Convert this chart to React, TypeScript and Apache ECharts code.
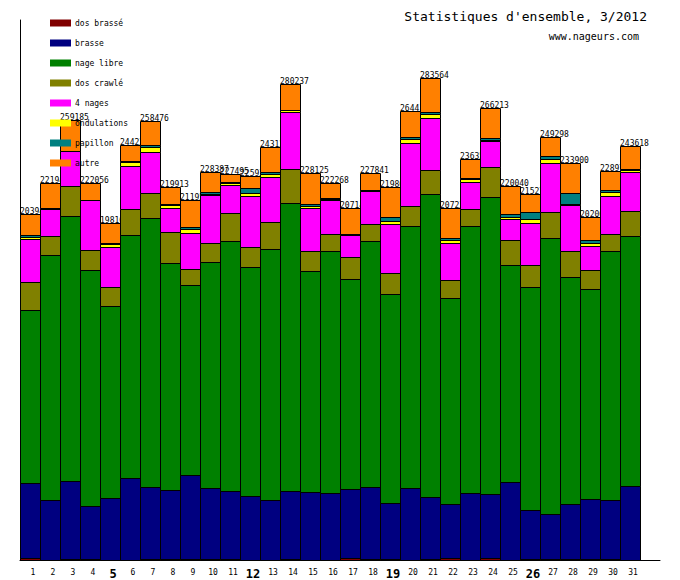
import { useEffect, useRef } from 'react';
import * as echarts from 'echarts';

// Days of March 2012
const days = [
  '1', '2', '3', '4', '5', '6', '7', '8', '9', '10',
  '11', '12', '13', '14', '15', '16', '17', '18', '19', '20',
  '21', '22', '23', '24', '25', '26', '27', '28', '29', '30', '31',
];
// Days printed larger in bold on the axis
const boldDays = ['5', '12', '19', '26'];

// Distances per stroke and per day (metres)
const dosBrasse = [1185, 0, 594, 602, 0, 0, 597, 588, 591, 586, 593, 0, 0, 590, 0, 0, 1172, 587, 593, 0, 586, 1183, 0, 1176, 0, 592, 584, 589, 594, 591, 0];
const brasse = [43987, 35158, 45761, 31036, 36348, 48117, 42226, 40471, 49294, 41648, 39869, 37524, 35157, 39882, 39871, 39281, 40459, 42238, 32802, 42226, 36347, 31634, 39291, 37512, 45771, 28679, 26331, 32213, 35168, 34568, 43403];
const nageLibre = [101903, 144297, 156258, 139011, 113259, 143134, 158437, 133709, 111906, 133121, 147243, 134876, 147846, 169627, 130176, 142544, 123694, 144887, 123108, 154502, 178461, 121682, 157436, 174938, 127806, 131352, 162558, 133709, 123684, 146667, 147257];
const dosCrawle = [16489, 11186, 17488, 11784, 11017, 15319, 14846, 18254, 9598, 11187, 16672, 11783, 16083, 20031, 11775, 10018, 12963, 10016, 12374, 11598, 14318, 10243, 9842, 17664, 14897, 12951, 15318, 15308, 11372, 10009, 14896];
const quatreNages = [25684, 16074, 20617, 29446, 23905, 25676, 23918, 14318, 21380, 28265, 16658, 30397, 26675, 33566, 25331, 20372, 13306, 19784, 29209, 37466, 30799, 22152, 16251, 15497, 12552, 25097, 29207, 27100, 14306, 22741, 23152];
const ondulations = [871, 180, 176, 168, 1472, 2238, 3362, 2004, 2356, 879, 1174, 1528, 1652, 1185, 1596, 471, 289, 247, 1537, 2114, 2127, 1289, 1764, 352, 887, 1996, 2008, 946, 1597, 2351, 937];
const papillon = [1012, 150, 163, 171, 707, 589, 1183, 589, 707, 892, 350, 2834, 1169, 295, 1172, 478, 302, 231, 2126, 1183, 1291, 1176, 287, 1171, 2116, 4011, 1994, 6185, 1583, 948, 889];
const autre = [12809, 14903, 18128, 9838, 11456, 9164, 13907, 9980, 16120, 11809, 4936, 6989, 14546, 15061, 18204, 9104, 14961, 9851, 18113, 15328, 19635, 17876, 11483, 17903, 16011, 10598, 11298, 17850, 13759, 11099, 13084];

const strokeNames = ['dos brassé', 'brasse', 'nage libre', 'dos crawlé', '4 nages', 'ondulations', 'papillon', 'autre'];
const strokeColors = ['#800000', '#000080', '#008000', '#808000', '#ff00ff', '#ffff00', '#008080', '#ff8000'];

const MONO = "'DejaVu Sans Mono', 'Liberation Mono', monospace";

export default function App() {
  const ref = useRef<HTMLDivElement>(null);

  useEffect(() => {
    if (!ref.current) return;
    const chart = echarts.init(ref.current, undefined, { renderer: 'svg' });

    const columns = [dosBrasse, brasse, nageLibre, dosCrawle, quatreNages, ondulations, papillon, autre];
    const rows = days.map((_, i) => [i, ...columns.map((c) => c[i])]);

    // Each day is drawn as one group (segments + total), in day order,
    // so that a later column paints over the previous total where they meet.
    const renderItem = (params: any, api: any) => {
      const x = api.value(0);
      const band = api.size([1, 0])[0];
      const center = api.coord([x, 0]);
      const left = Math.round(center[0] - band / 2);
      let acc = 0;
      const children: any[] = [];
      for (let k = 0; k < columns.length; k++) {
        const v = api.value(k + 1);
        if (!v) continue;
        const yBottom = Math.round(api.coord([x, acc])[1]);
        const yTop = Math.round(api.coord([x, acc + v])[1]);
        children.push({
          type: 'rect',
          shape: { x: left + 0.5, y: yTop + 0.5, width: band, height: yBottom - yTop },
          style: { fill: strokeColors[k], stroke: '#000', lineWidth: 1 },
        });
        acc += v;
      }
      const yTotal = Math.round(api.coord([x, acc])[1]);
      children.push({
        type: 'text',
        x: left,
        y: yTotal + 1,
        style: {
          text: String(acc),
          fill: '#000',
          fontFamily: MONO,
          fontSize: 8,
          align: 'left',
          verticalAlign: 'bottom',
        },
      });
      return { type: 'group', children };
    };

    const legendSeries = strokeNames.map((name, k) => ({
      type: 'bar',
      name,
      data: [],
      itemStyle: { color: strokeColors[k] },
    }));

    chart.setOption({
      animation: false,
      backgroundColor: '#ffffff',
      title: [
        {
          text: "Statistiques d'ensemble, 3/2012",
          right: 33,
          top: 10,
          padding: 0,
          textStyle: { fontFamily: MONO, fontSize: 13, fontWeight: 'normal', color: '#000' },
        },
        {
          text: 'www.nageurs.com',
          right: 41,
          top: 31,
          padding: 0,
          textStyle: { fontFamily: MONO, fontSize: 10, fontWeight: 'normal', color: '#000' },
        },
      ],
      legend: {
        orient: 'vertical',
        left: 50,
        top: 19,
        padding: 0,
        itemWidth: 21,
        itemHeight: 7,
        itemGap: 12,
        icon: 'rect',
        selectedMode: false,
        data: strokeNames,
        itemStyle: { borderWidth: 0 },
        textStyle: { fontFamily: MONO, fontSize: 8, lineHeight: 8, color: '#000', padding: [0, 0, 0, -1] },
      },
      grid: { left: 20, right: 20, top: 20, bottom: 20 },
      xAxis: {
        type: 'category',
        data: [...days, ''],
        boundaryGap: true,
        axisLine: { lineStyle: { color: '#000', width: 1 } },
        axisTick: { show: false },
        axisLabel: {
          interval: 0,
          margin: 8,
          formatter: (v: string) => (boldDays.includes(v) ? `{b|${v}}` : `{n|${v}}`),
          rich: {
            n: { fontFamily: MONO, fontSize: 8, color: '#000', padding: [0, 0, 0, 6] },
            b: { fontFamily: MONO, fontSize: 12, fontWeight: 'bold', color: '#000', padding: [0, 0, 0, 6] },
          },
        },
      },
      yAxis: {
        type: 'value',
        min: 0,
        max: 318000,
        axisLine: { show: true, lineStyle: { color: '#000', width: 1 } },
        axisTick: { show: false },
        axisLabel: { show: false },
        splitLine: { show: false },
      },
      series: [
        ...legendSeries,
        {
          type: 'custom',
          name: 'total',
          data: rows,
          encode: { x: 0, y: [1, 2, 3, 4, 5, 6, 7, 8] },
          renderItem,
        },
      ],
    });

    return () => chart.dispose();
  }, []);

  return <div ref={ref} style={{ position: 'absolute', left: 0, top: 0, width: 680, height: 580 }} />;
}
